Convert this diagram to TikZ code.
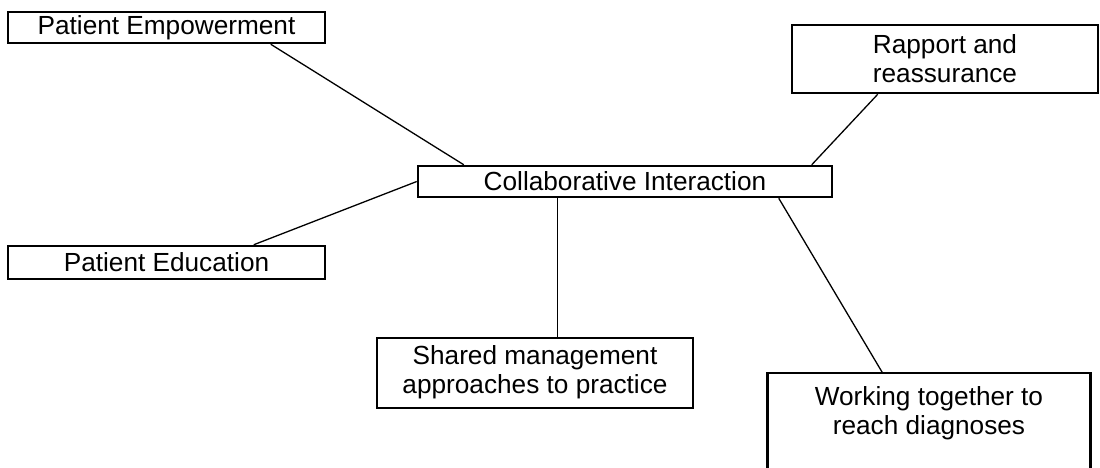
\documentclass[tikz,border=0pt]{standalone}
\usepackage{fontspec}
\setmainfont{Liberation Sans}
\usepackage{tikz}
\usetikzlibrary{positioning,calc}
\definecolor{cInk}{HTML}{000000}
\tikzset{
  tbox/.style={draw=cInk,line width=1.25pt,align=center,inner sep=0pt,font=\fontsize{13.1}{14.5}\selectfont,text=cInk},
  ttxt/.style={align=center,inner sep=0pt,font=\fontsize{13.1}{14.5}\selectfont,text=cInk},
  lnk/.style={line width=0.65pt,color=cInk},
}

\begin{document}
\begin{tikzpicture}[x=0.5pt,y=-0.5pt,
          wide/.style={tbox,minimum width=158.5pt,minimum height=#1},
          wide/.default=15.5pt]
        \useasboundingbox (0,0) rectangle (1100,467);
        % boxes
        \node[wide] (pemp) at (166.5,27.5) {Patient Empowerment};
        \node[tbox,minimum width=153pt,minimum height=34pt] (rapp) at (945,59) {Rapport and\\reassurance};
        \node[tbox,minimum width=207pt,minimum height=15.5pt] (coll) at (625,181.5) {Collaborative Interaction};
        \node[wide=16.5pt] (pedu) at (166.5,262.5) {Patient Education};
        \node[tbox,minimum width=158pt,minimum height=35pt,text depth=3pt] (shrd) at (535,373) {Shared management\\approaches to practice};
        \node[minimum width=161pt,minimum height=60pt,inner sep=0pt,anchor=north] (work) at (929,373) {};
        \node[ttxt,anchor=north] (worktxt) at ($(work.north)+(0,13)$) {Working together to\\reach diagnoses};
        \draw[cInk,line width=1.25pt] (work.south west) -- (work.north west) -- (work.north east) -- (work.south east);
        % links
        \draw[lnk] ($(pemp.south west)+(264,0)$) -- ($(coll.north west)+(47,0)$);
        \draw[lnk] ($(rapp.south west)+(87,0)$) -- ($(coll.north west)+(395,0)$);
        \draw[lnk] ($(pedu.north west)+(247,0)$) -- (coll.west);
        \draw[lnk] ($(coll.south west)+(141,0)$) -- ($(shrd.north west)+(182,0)$);
        \draw[lnk] ($(coll.south west)+(362,0)$) -- ($(work.north west)+(115,0)$);
      \end{tikzpicture}
\end{document}
